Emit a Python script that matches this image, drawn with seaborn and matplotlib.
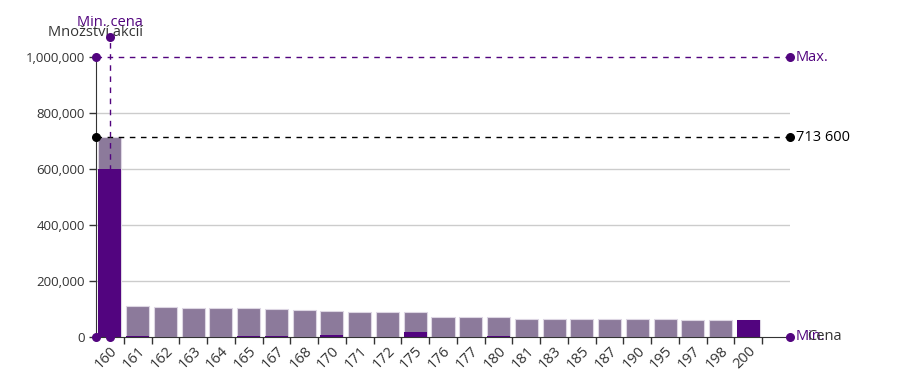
import matplotlib
matplotlib.use("Agg")
import matplotlib.pyplot as plt
import seaborn as sns
from matplotlib.ticker import FuncFormatter

# data
prices = ["160", "161", "162", "163", "164", "165", "167", "168", "170", "171", "172", "175",
          "176", "177", "180", "181", "183", "185", "187", "190", "195", "197", "198", "200"]
total_qty = [713600, 109000, 104000, 103000, 103000, 102000, 98000, 94000, 93000, 89000, 89000, 88000,
             71000, 69000, 68000, 62000, 62000, 62000, 61000, 61000, 61000, 60000, 60000, 60000]
matched_qty = [600000, 3000, 0, 0, 0, 3000, 3000, 0, 4000, 0, 0, 15000,
               0, 0, 3000, 0, 0, 0, 0, 0, 0, 0, 0, 60000]
y_ticks = [0, 200000, 400000, 600000, 800000, 1000000]
max_qty = 1000000
cum_qty = 713600
min_price = "160"

PURPLE = "#52047f"
LIGHT = "#8c7a9b"
GREY = "#333333"


def main():
    sns.set_style("white")
    plt.rcParams["font.family"] = ["Open Sans", "DejaVu Sans"]

    fig = plt.figure(figsize=(8.98, 3.84), dpi=100)
    ax = fig.add_axes([96 / 898, 47.5 / 384, 694 / 898, 279.5 / 384])

    sns.barplot(x=prices, y=total_qty, order=prices, color=LIGHT, saturation=1,
                width=0.83, edgecolor="#ddd6e3", linewidth=0.8, ax=ax, zorder=2)
    sns.barplot(x=prices, y=matched_qty, order=prices, color=PURPLE, saturation=1,
                width=0.83, linewidth=0, ax=ax, zorder=3)

    ax.set_xlim(-0.5, 24.5)
    ax.set_ylim(0, max_qty)

    # grid
    for v in y_ticks[1:-1]:
        ax.axhline(v, color="#cccccc", lw=1, zorder=1)

    # axes
    sns.despine(ax=ax, top=True, right=True)
    ax.spines["left"].set_color(GREY)
    ax.spines["bottom"].set_color(GREY)
    ax.spines["left"].set_zorder(5)
    ax.spines["bottom"].set_zorder(5)

    ax.set_yticks(y_ticks)
    ax.yaxis.set_major_formatter(FuncFormatter(lambda v, p: f"{int(v):,}"))
    ax.tick_params(axis="y", left=True, length=5, width=1, color=GREY,
                   labelcolor=GREY, labelsize=9.5, pad=3)

    ax.set_xticks(range(len(prices)))
    ax.set_xticklabels(prices, rotation=45, ha="right", rotation_mode="anchor")
    ax.set_xticks([i + 0.5 for i in range(len(prices))], minor=True)
    ax.tick_params(axis="x", which="major", bottom=True, length=0,
                   labelcolor=GREY, labelsize=10.5, pad=5)
    ax.tick_params(axis="x", which="minor", bottom=True, length=5, width=1, color=GREY)
    ax.set_xlabel("")
    ax.set_ylabel("")

    ytr = ax.get_yaxis_transform()

    # max line
    ax.plot([0, 1], [max_qty, max_qty], transform=ytr, color=PURPLE, lw=1,
            ls=(0, (4, 4)), clip_on=False, zorder=6)
    ax.scatter([0, 1], [max_qty, max_qty], transform=ytr, s=30, color=PURPLE,
               clip_on=False, zorder=7)
    ax.annotate("Max.", xy=(1, max_qty), xycoords=ytr, xytext=(4, 0),
                textcoords="offset points", va="center", ha="left",
                color=PURPLE, fontsize=10.5)

    # cumulative line
    ax.plot([0, 1], [cum_qty, cum_qty], transform=ytr, color="black", lw=1,
            ls=(0, (4, 4)), clip_on=False, zorder=6)
    ax.scatter([0, 1], [cum_qty, cum_qty], transform=ytr, s=30, color="black",
               clip_on=False, zorder=7)
    ax.annotate(f"{cum_qty:,}".replace(",", " "), xy=(1, cum_qty), xycoords=ytr,
                xytext=(4, 0), textcoords="offset points", va="center", ha="left",
                color="black", fontsize=10.5)

    # min line at zero
    ax.scatter([0, 1], [0, 0], transform=ytr, s=30, color=PURPLE, clip_on=False, zorder=7)
    ax.annotate("Min.", xy=(1, 0), xycoords=ytr, xytext=(4, 0),
                textcoords="offset points", va="center", ha="left",
                color=PURPLE, fontsize=10.5)
    ax.annotate("Cena", xy=(1, 0), xycoords=ytr, xytext=(12, 0),
                textcoords="offset points", va="center", ha="left",
                color=GREY, fontsize=10.5)

    # min price vertical line
    xi = prices.index(min_price)
    top = 1071500
    ax.plot([xi, xi], [0, top], color=PURPLE, lw=1, ls=(0, (4, 4)),
            clip_on=False, zorder=6)
    ax.scatter([xi, xi], [0, top], s=30, color=PURPLE, clip_on=False, zorder=7)
    ax.text(xi, 1125000, "Min. cena", ha="center", va="center",
            color=PURPLE, fontsize=10.5, clip_on=False)
    ax.text(-0.5, 1086000, "Množství akcií", ha="center", va="center",
            color=GREY, fontsize=10.5, clip_on=False)

    fig.savefig("out.png", dpi=100)


if __name__ == "__main__":
    main()
